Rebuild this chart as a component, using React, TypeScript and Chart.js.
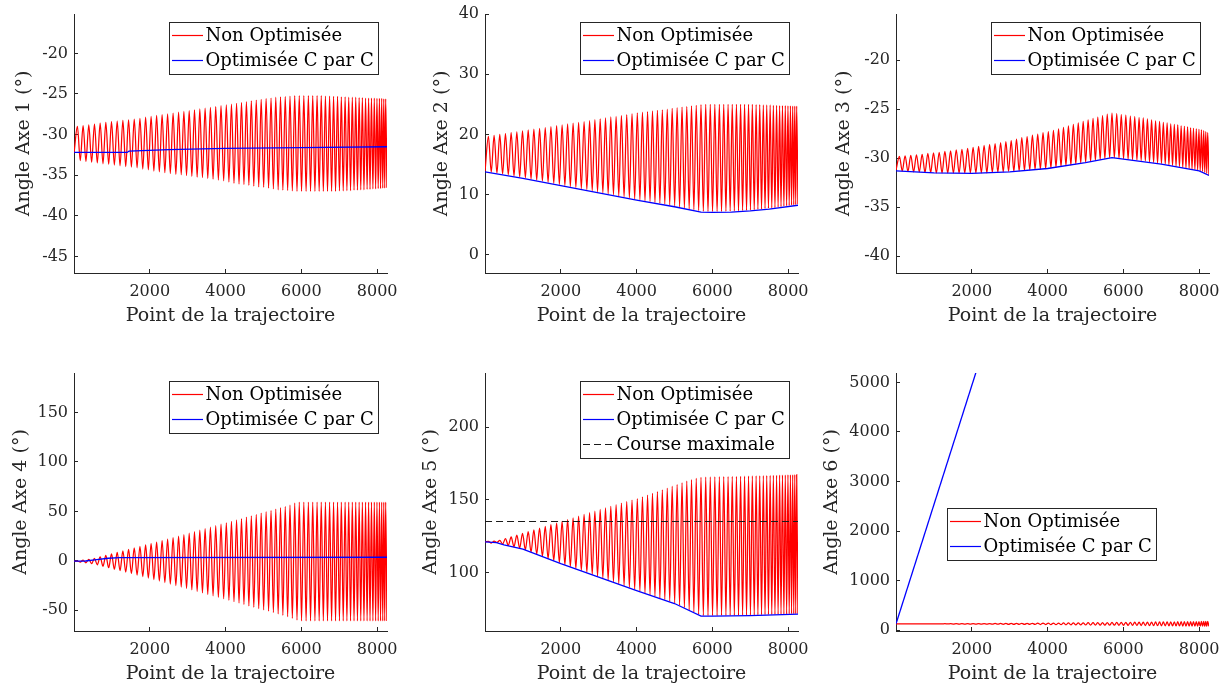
import React, { useEffect, useRef } from "react";
import { Chart, registerables } from "chart.js";
Chart.register(...registerables);

const FONT = "'DejaVu Serif', serif";

// ---------------- DATA ----------------
const labels = ["Non Optimisée", "Optimisée C par C", "Course maximale"];
const xTicks = [2000, 4000, 6000, 8000];
const xMin = 0;
const xMax = 8260;

// trajectory points where the non-optimised signal reaches its maxima / minima
const peakX = [90, 240, 390, 540, 690, 840, 990, 1140, 1290, 1440,
  1590, 1740, 1890, 2035, 2180, 2325, 2470, 2615, 2760, 2900,
  3040, 3180, 3320, 3460, 3600, 3740, 3880, 4020, 4155, 4290,
  4420, 4550, 4680, 4810, 4940, 5070, 5200, 5325, 5450, 5575,
  5700, 5825, 5945, 6065, 6185, 6300, 6415, 6525, 6635, 6745,
  6850, 6955, 7055, 7155, 7250, 7345, 7435, 7525, 7610, 7695,
  7775, 7850, 7925, 7995, 8060, 8120, 8175, 8225];
const troughX = [165, 315, 465, 615, 765, 915, 1065, 1215, 1365, 1515,
  1665, 1815, 1962, 2108, 2252, 2398, 2542, 2688, 2830, 2970,
  3110, 3250, 3390, 3530, 3670, 3810, 3950, 4088, 4222, 4355,
  4485, 4615, 4745, 4875, 5005, 5135, 5262, 5388, 5512, 5638,
  5762, 5885, 6005, 6125, 6242, 6358, 6470, 6580, 6690, 6798,
  6902, 7005, 7105, 7202, 7298, 7390, 7480, 7568, 7652, 7735,
  7812, 7888, 7960, 8028, 8090, 8148, 8200, 8258];

// Axe 1
const start1 = -32.3;
const hi1 = [-29.0, -28.9, -28.8, -28.7, -28.6, -28.5, -28.4, -28.35, -28.25, -28.2,
  -28.1, -28.0, -27.85, -27.75, -27.65, -27.55, -27.45, -27.35, -27.25, -27.15,
  -27.05, -26.95, -26.85, -26.75, -26.65, -26.55, -26.45, -26.35, -26.25, -26.15,
  -26.05, -25.95, -25.85, -25.75, -25.65, -25.55, -25.5, -25.4, -25.35, -25.3,
  -25.25, -25.2, -25.2, -25.2, -25.2, -25.2, -25.2, -25.2, -25.25, -25.25,
  -25.3, -25.3, -25.35, -25.35, -25.4, -25.4, -25.4, -25.45, -25.45, -25.5,
  -25.5, -25.5, -25.5, -25.55, -25.55, -25.55, -25.6, -25.6];
const lo1 = [-33.2, -33.3, -33.4, -33.5, -33.6, -33.65, -33.75, -33.85, -33.95, -34.0,
  -34.1, -34.25, -34.35, -34.5, -34.6, -34.7, -34.8, -34.9, -34.95, -35.05,
  -35.15, -35.25, -35.3, -35.4, -35.5, -35.6, -35.7, -35.85, -36.0, -36.1,
  -36.15, -36.25, -36.35, -36.45, -36.5, -36.6, -36.7, -36.8, -36.85, -36.9,
  -36.95, -37.0, -37.0, -37.0, -37.0, -37.0, -37.0, -37.0, -37.0, -37.0,
  -37.0, -36.95, -36.95, -36.9, -36.9, -36.85, -36.85, -36.8, -36.8, -36.75,
  -36.75, -36.7, -36.7, -36.65, -36.65, -36.6, -36.6, -36.55];
const blue1X = [1, 1400, 1450, 2500, 4000, 6000, 8260];
const blue1Y = [-32.2, -32.2, -32.05, -31.85, -31.7, -31.6, -31.5];
const yTicks1 = [-45, -40, -35, -30, -25, -20];

// Axe 2
const start2 = 13.9;
const hi2 = [19.7, 19.85, 20.0, 20.15, 20.3, 20.45, 20.6, 20.75, 20.9, 21.0,
  21.15, 21.3, 21.45, 21.6, 21.75, 21.9, 22.0, 22.15, 22.3, 22.45,
  22.6, 22.75, 22.9, 23.0, 23.15, 23.3, 23.45, 23.6, 23.7, 23.8,
  23.9, 24.0, 24.1, 24.2, 24.35, 24.45, 24.55, 24.65, 24.75, 24.85,
  24.95, 25.0, 25.0, 25.0, 25.0, 25.0, 25.0, 25.0, 25.0, 25.0,
  25.0, 25.0, 25.0, 24.95, 24.95, 24.9, 24.9, 24.9, 24.85, 24.85,
  24.8, 24.8, 24.8, 24.75, 24.75, 24.7, 24.7, 24.7];
const lo2 = [13.75, 13.6, 13.45, 13.3, 13.1, 12.95, 12.8, 12.6, 12.4, 12.25,
  12.05, 11.9, 11.7, 11.5, 11.35, 11.2, 11.0, 10.85, 10.65, 10.5,
  10.3, 10.15, 10.0, 9.8, 9.65, 9.5, 9.3, 9.15, 9.0, 8.85,
  8.7, 8.6, 8.45, 8.3, 8.15, 8.0, 7.8, 7.65, 7.5, 7.35,
  7.25, 7.2, 7.2, 7.2, 7.2, 7.25, 7.25, 7.3, 7.3, 7.35,
  7.4, 7.45, 7.5, 7.55, 7.6, 7.7, 7.75, 7.8, 7.85, 7.95,
  8.0, 8.1, 8.15, 8.2, 8.25, 8.3, 8.35, 8.4];
const blue2X = [1, 1000, 2000, 3000, 4000, 5000, 5700, 6000, 6500, 7000, 7500, 8260];
const blue2Y = [13.8, 12.7, 11.5, 10.3, 9.1, 8.0, 7.1, 7.05, 7.1, 7.3, 7.6, 8.25];
const yTicks2 = [0, 10, 20, 30, 40];

// Axe 3
const start3 = -31.2;
const hi3 = [-29.8, -29.75, -29.7, -29.65, -29.6, -29.5, -29.45, -29.4, -29.3, -29.25,
  -29.15, -29.1, -29.0, -28.9, -28.8, -28.7, -28.6, -28.5, -28.4, -28.3,
  -28.2, -28.05, -27.9, -27.8, -27.65, -27.55, -27.4, -27.3, -27.15, -27.0,
  -26.85, -26.7, -26.55, -26.4, -26.25, -26.1, -25.95, -25.8, -25.65, -25.5,
  -25.4, -25.45, -25.55, -25.6, -25.7, -25.75, -25.85, -25.9, -26.0, -26.1,
  -26.2, -26.25, -26.35, -26.4, -26.5, -26.55, -26.6, -26.7, -26.75, -26.8,
  -26.9, -26.95, -27.0, -27.05, -27.1, -27.2, -27.3, -27.4];
const lo3 = [-31.3, -31.35, -31.4, -31.4, -31.45, -31.45, -31.5, -31.5, -31.5, -31.5,
  -31.5, -31.5, -31.5, -31.5, -31.5, -31.5, -31.45, -31.45, -31.4, -31.35,
  -31.35, -31.3, -31.25, -31.2, -31.15, -31.1, -31.05, -31.0, -30.9, -30.85,
  -30.75, -30.7, -30.6, -30.5, -30.4, -30.35, -30.25, -30.15, -30.05, -29.95,
  -29.95, -30.0, -30.05, -30.1, -30.15, -30.2, -30.25, -30.3, -30.4, -30.45,
  -30.5, -30.55, -30.6, -30.7, -30.75, -30.8, -30.85, -30.95, -31.0, -31.05,
  -31.1, -31.15, -31.2, -31.3, -31.35, -31.45, -31.55, -31.7];
const blue3X = [1, 1000, 2000, 3000, 4000, 5000, 5700, 6000, 7000, 8000, 8260];
const blue3Y = [-31.3, -31.5, -31.55, -31.4, -31.05, -30.45, -29.95, -30.1, -30.6, -31.3, -31.75];
const yTicks3 = [-40, -35, -30, -25, -20];

// Axe 4
const start4 = -0.5;
const hi4 = [-0.3, 0.8, 1.5, 2.5, 4.0, 5.5, 7.0, 8.5, 10.0, 11.5,
  13.0, 14.5, 16.0, 17.5, 19.0, 20.5, 22.0, 23.5, 25.0, 26.5,
  28.0, 29.5, 31.0, 32.5, 34.0, 35.5, 37.0, 38.5, 40.0, 41.4,
  42.8, 44.2, 45.5, 46.9, 48.3, 49.7, 51.0, 52.4, 53.7, 55.0,
  56.5, 58.5, 59.5, 59.5, 59.5, 59.5, 59.5, 59.5, 59.5, 59.5,
  59.5, 59.5, 59.5, 59.5, 59.5, 59.5, 59.5, 59.5, 59.5, 59.5,
  59.5, 59.5, 59.5, 59.5, 59.5, 59.5, 59.5, 59.5];
const lo4 = [-1.2, -2.0, -2.8, -4.0, -5.5, -7.0, -8.5, -10.0, -11.5, -13.0,
  -14.5, -16.0, -17.5, -19.0, -20.5, -22.0, -23.5, -25.0, -26.5, -28.0,
  -29.5, -31.0, -32.5, -34.0, -35.5, -37.0, -38.5, -40.0, -41.4, -42.8,
  -44.2, -45.6, -47.0, -48.4, -49.7, -51.0, -52.4, -53.8, -55.2, -56.6,
  -58.3, -60.0, -60.8, -60.8, -60.8, -60.8, -60.8, -60.8, -60.8, -60.8,
  -60.8, -60.8, -60.8, -60.8, -60.8, -60.8, -60.8, -60.8, -60.8, -60.8,
  -60.8, -60.8, -60.8, -60.8, -60.8, -60.8, -60.8, -60.8];
const blue4X = [1, 300, 600, 900, 1200, 8260];
const blue4Y = [-0.3, -0.2, 1.2, 2.6, 3.3, 3.6];
const yTicks4 = [-50, 0, 50, 100, 150];

// Axe 5
const start5 = 121.0;
const hi5 = [121.3, 121.5, 122.0, 123.2, 124.4, 125.6, 126.8, 128.0, 129.2, 130.4,
  131.6, 132.8, 134.0, 135.2, 136.4, 137.6, 138.8, 140.0, 141.1, 142.2,
  143.3, 144.4, 145.5, 146.6, 147.7, 148.8, 149.8, 150.8, 152.0, 153.2,
  154.4, 155.6, 156.8, 158.0, 159.3, 160.5, 161.7, 162.8, 163.8, 164.7,
  165.4, 165.6, 165.7, 165.8, 165.85, 165.9, 165.95, 166.0, 166.0, 166.1,
  166.2, 166.3, 166.35, 166.4, 166.5, 166.55, 166.6, 166.7, 166.75, 166.8,
  166.9, 166.95, 167.0, 167.05, 167.1, 167.15, 167.2, 167.2];
const lo5 = [120.2, 120.6, 119.5, 118.6, 117.7, 116.8, 115.6, 114.1, 112.6, 111.1,
  109.6, 108.1, 106.7, 105.3, 104.0, 102.6, 101.3, 100.0, 98.7, 97.4,
  96.1, 94.8, 93.5, 92.2, 90.9, 89.6, 88.3, 87.0, 85.8, 84.6,
  83.5, 82.3, 81.2, 80.0, 78.9, 77.3, 75.7, 74.1, 72.6, 71.1,
  70.3, 70.3, 70.3, 70.3, 70.4, 70.4, 70.45, 70.5, 70.5, 70.55,
  70.6, 70.6, 70.7, 70.75, 70.85, 70.9, 71.0, 71.05, 71.1, 71.2,
  71.25, 71.3, 71.35, 71.4, 71.45, 71.5, 71.55, 71.6];
const blue5X = [1, 300, 500, 1000, 2000, 3000, 4000, 5000, 5700, 6000, 7000, 8260];
const blue5Y = [121, 120.5, 119, 116, 106, 96.8, 87.5, 78.6, 70, 70, 70.3, 71.3];
const courseX = [1, 8260];
const courseY = [135, 135];
const yTicks5 = [100, 150, 200];

// Axe 6
const start6 = 130;
const hi6 = [130.5, 130.5, 131, 131, 131.5, 131.5, 132, 132, 132.5, 133,
  133.5, 134, 134.5, 135, 135.5, 136, 137, 137.5, 138, 139,
  139.5, 140, 141, 141.5, 142, 143, 144, 145, 146, 147,
  148, 149, 150, 151, 152, 153, 154, 155, 156, 157,
  158, 159, 160, 161, 162, 163, 164, 165, 166, 167,
  168, 169, 170, 171, 172, 172.5, 173, 174, 174.5, 175,
  176, 176.5, 177, 177.5, 178, 178.5, 179, 180];
const lo6 = [129.5, 129.5, 129, 129, 128.5, 128.5, 128, 128, 127.5, 127,
  126.5, 126, 125.5, 125, 124.5, 124, 123, 122.5, 122, 121,
  120.5, 120, 119, 118.5, 118, 117, 116, 115, 114, 113,
  112, 111, 110, 109, 108, 107, 106, 105, 104, 103,
  102, 101, 100, 99, 98, 97, 96, 95, 94, 93,
  92, 91, 90, 89, 88, 87.5, 87, 86, 85.5, 85,
  84, 83.5, 83, 82.5, 82, 81.5, 81, 80];
const blue6X = [1, 8260];
const blue6Y = [130, 19990];
const yTicks6 = [0, 1000, 2000, 3000, 4000, 5000];

// ---------------- HELPERS ----------------
function redSeries(start: number, hi: number[], lo: number[]) {
  const pts = [{ x: 1, y: start }];
  for (let i = 0; i < peakX.length; i++) {
    pts.push({ x: peakX[i], y: hi[i] });
    pts.push({ x: troughX[i], y: lo[i] });
  }
  return pts;
}
function pairs(xs: number[], ys: number[]) {
  return xs.map((x, i) => ({ x, y: ys[i] }));
}

type PanelCfg = {
  left: number; top: number; w: number; h: number;
  yMin: number; yMax: number; yTicks: number[];
  title: string; titleGap: number;
  red: { x: number; y: number }[];
  blue: { x: number; y: number }[];
  course?: { x: number; y: number }[];
  legend: { dx?: number; dy?: number };
};

const panels: PanelCfg[] = [
  { left: 74, top: 14, w: 313, h: 259, yMin: -47.05, yMax: -15.15, yTicks: yTicks1, title: "Angle Axe 1 (°)", titleGap: 50,
    red: redSeries(start1, hi1, lo1), blue: pairs(blue1X, blue1Y), legend: {} },
  { left: 485, top: 14, w: 313, h: 259, yMin: -3, yMax: 40, yTicks: yTicks2, title: "Angle Axe 2 (°)", titleGap: 42.5,
    red: redSeries(start2, hi2, lo2), blue: pairs(blue2X, blue2Y), legend: {} },
  { left: 896, top: 14, w: 313, h: 259, yMin: -41.7, yMax: -15.3, yTicks: yTicks3, title: "Angle Axe 3 (°)", titleGap: 51.5,
    red: redSeries(start3, hi3, lo3), blue: pairs(blue3X, blue3Y), legend: {} },
  { left: 74, top: 373, w: 313, h: 258, yMin: -71, yMax: 190, yTicks: yTicks4, title: "Angle Axe 4 (°)", titleGap: 53,
    red: redSeries(start4, hi4, lo4), blue: pairs(blue4X, blue4Y), legend: {} },
  { left: 485, top: 373, w: 313, h: 258, yMin: 59.7, yMax: 237.2, yTicks: yTicks5, title: "Angle Axe 5 (°)", titleGap: 54,
    red: redSeries(start5, hi5, lo5), blue: pairs(blue5X, blue5Y), course: pairs(courseX, courseY), legend: {} },
  { left: 896, top: 373, w: 313, h: 258, yMin: -14, yMax: 5190, yTicks: yTicks6, title: "Angle Axe 6 (°)", titleGap: 64,
    red: redSeries(start6, hi6, lo6), blue: pairs(blue6X, blue6Y), legend: { dx: 51, dy: 135 } },
];

const AXW = 80; // y-axis box width
const AXH = 60; // x-axis box height
const PADT = 22; // >= half tick label height + tick padding (Chart.js y-axis padding)
const PADR = 30;
const AXIS_COL = "#262626";

function legendPlugin(p: PanelCfg) {
  return {
    id: "boxLegend",
    afterDatasetsDraw(chart: any) {
      const { ctx, chartArea } = chart;
      const items = chart.data.datasets.map((ds: any) => ({
        label: ds.label, color: ds.borderColor, dash: ds.borderDash || [],
      }));
      const w = 209;
      const h = 25 * items.length + 2;
      const bx = p.legend.dx !== undefined ? chartArea.left + p.legend.dx : chartArea.right - 9 - w;
      const by = chartArea.top + (p.legend.dy !== undefined ? p.legend.dy : 8);
      ctx.save();
      ctx.fillStyle = "#ffffff";
      ctx.fillRect(bx, by, w, h);
      ctx.strokeStyle = AXIS_COL;
      ctx.lineWidth = 1;
      ctx.setLineDash([]);
      ctx.strokeRect(Math.round(bx) + 0.5, Math.round(by) + 0.5, w, h);
      items.forEach((it: any, i: number) => {
        const cy = Math.round(by + 12.7 + 25 * i) + 0.5;
        ctx.strokeStyle = it.color;
        ctx.lineWidth = 1.2;
        ctx.setLineDash(it.dash);
        ctx.beginPath();
        ctx.moveTo(bx + 3, cy);
        ctx.lineTo(bx + 34, cy);
        ctx.stroke();
        ctx.setLineDash([]);
        ctx.fillStyle = "#000000";
        ctx.font = `18px ${FONT}`;
        ctx.textBaseline = "alphabetic";
        ctx.textAlign = "left";
        ctx.fillText(it.label, bx + 36.5, by + 18.8 + 25 * i);
      });
      ctx.restore();
    },
  };
}

function Panel({ p }: { p: PanelCfg }) {
  const ref = useRef<HTMLCanvasElement | null>(null);
  const W = AXW + p.w + PADR;
  const H = PADT + p.h + AXH;
  useEffect(() => {
    const canvas = ref.current!;
    const datasets: any[] = [
      { label: labels[0], data: p.red, borderColor: "#ff0000", borderWidth: 1.25, pointRadius: 0,
        cubicInterpolationMode: "monotone", order: 3 },
      { label: labels[1], data: p.blue, borderColor: "#0000ff", borderWidth: 1.3, pointRadius: 0, order: 2 },
    ];
    if (p.course) {
      datasets.push({ label: labels[2], data: p.course, borderColor: "#1a1a1a", borderWidth: 1.1,
        borderDash: [7, 4], pointRadius: 0, order: 1 });
    }
    const titleLH = 19 * 1.2;
    const chart = new Chart(canvas, {
      type: "line",
      data: { datasets },
      options: {
        animation: false,
        responsive: false,
        maintainAspectRatio: false,
        devicePixelRatio: 1,
        layout: { autoPadding: false, padding: { top: PADT, right: PADR, left: 0, bottom: 0 } },
        plugins: { legend: { display: false }, tooltip: { enabled: false } },
        elements: { point: { radius: 0 } },
        scales: {
          x: {
            type: "linear",
            min: xMin,
            max: xMax,
            afterBuildTicks: (s: any) => { s.ticks = xTicks.map((v) => ({ value: v })); },
            afterFit: (s: any) => { s.height = AXH; },
            grid: { drawOnChartArea: false, drawTicks: true, tickLength: -4, color: AXIS_COL, lineWidth: 1 },
            border: { display: true, color: AXIS_COL, width: 1 },
            ticks: { padding: 13, color: AXIS_COL, font: { family: FONT, size: 16 }, maxRotation: 0, autoSkip: false,
              callback: (v: any) => String(v) },
            title: { display: true, text: "Point de la trajectoire", color: AXIS_COL,
              font: { family: FONT, size: 19 }, padding: { top: 0, bottom: 6 } },
          },
          y: {
            type: "linear",
            min: p.yMin,
            max: p.yMax,
            afterBuildTicks: (s: any) => { s.ticks = p.yTicks.map((v) => ({ value: v })); },
            afterFit: (s: any) => { s.width = AXW; },
            grid: { drawOnChartArea: false, drawTicks: true, tickLength: -4, color: AXIS_COL, lineWidth: 1 },
            border: { display: true, color: AXIS_COL, width: 1 },
            ticks: { padding: 10, color: AXIS_COL, font: { family: FONT, size: 16 }, autoSkip: false,
              callback: (v: any) => String(v) },
            title: { display: true, text: p.title, color: AXIS_COL, font: { family: FONT, size: 19 },
              padding: { top: AXW - p.titleGap - titleLH / 2, bottom: 0 } },
          },
        },
      } as any,
      plugins: [legendPlugin(p)],
    });
    return () => chart.destroy();
  }, []);
  return (
    <canvas
      ref={ref}
      width={W}
      height={H}
      style={{ position: "absolute", left: p.left - AXW, top: p.top - PADT, width: W, height: H }}
    />
  );
}

export default function App() {
  return (
    <div style={{ position: "fixed", left: 0, top: 0, width: 1227, height: 690, background: "#ffffff", overflow: "hidden" }}>
      {panels.map((p, i) => (
        <Panel key={i} p={p} />
      ))}
    </div>
  );
}
